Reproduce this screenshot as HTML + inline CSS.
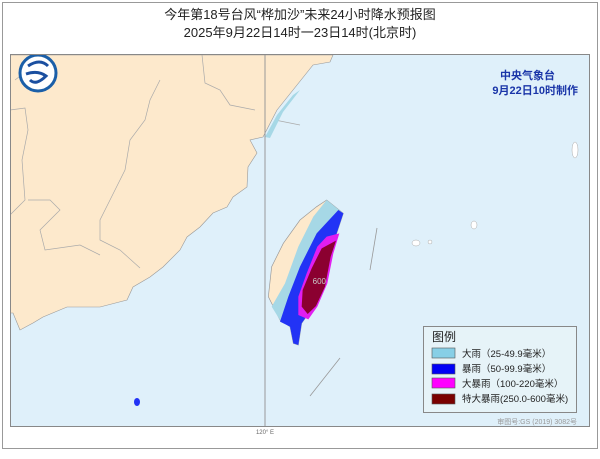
<!DOCTYPE html>
<html><head><meta charset="utf-8"><style>
html,body{margin:0;padding:0;background:#fff;}
body{width:600px;height:454px;overflow:hidden;font-family:"Liberation Sans","Noto Sans CJK SC",sans-serif;}
</style></head><body>
<svg width="600" height="454" viewBox="0 0 600 454" xmlns="http://www.w3.org/2000/svg" font-family="Liberation Sans, Noto Sans CJK SC, sans-serif">
<rect x="2.5" y="2.5" width="595" height="446" fill="#fff" stroke="#999" stroke-width="1"/>
<text x="300" y="19" font-size="13" text-anchor="middle" fill="#222">今年第18号台风“桦加沙”未来24小时降水预报图</text>
<text x="300" y="37" font-size="13" text-anchor="middle" fill="#222">2025年9月22日14时一23日14时(北京时)</text>
<rect x="10.5" y="54.5" width="579" height="372" fill="#dff0fa" stroke="#888"/>
<clipPath id="c"><rect x="11" y="55" width="578" height="371"/></clipPath>
<g clip-path="url(#c)">
<polygon fill="#fde9cc" stroke="#999" stroke-width="0.6" points="10,55 333,55 330,62 313,65 293,90 277,110 263,137 250,140 257,153 248,167 247,187 233,197 227,207 213,213 200,227 187,237 180,250 163,267 150,277 133,287 127,300 100,307 67,307 43,317 33,323 20,330 13,313 10,313"/>
<g fill="none" stroke="#aaa" stroke-width="0.7">
<path d="M202,55 L205,83 L220,90 L230,105 L255,110"/>
<path d="M160,80 L150,100 L145,120 L130,140 L125,170 L110,200 L100,220 L100,240 L120,250 L140,268"/>
<path d="M10,110 L25,108 L28,130 L22,160 L25,200 L10,215"/>
<path d="M28,200 L50,200 L60,210 L40,230 L45,250 L80,245 L100,255"/>
<path d="M30,55 L28,70 L15,80"/>
<path d="M275,120 L300,125"/>
</g>
<polygon fill="#a6d8e6" points="300,90 293,95 277,115 265,137 270,138 283,112"/>
<g transform="translate(230,190) scale(0.33333)">
<polygon fill="#fde9cc" stroke="#999" stroke-width="2" points="290,30 340,70 320,130 300,200 280,290 250,350 215,400 205,465 190,460 180,410 150,390 115,320 125,230 160,160 210,90 260,50"/>
<polygon fill="#a6d8e6" points="290,30 340,70 320,130 300,200 280,290 250,350 215,400 205,465 190,460 180,410 150,390 125,350 165,280 205,170 250,80"/>
<polygon fill="#2233f5" points="325,60 340,70 320,130 300,200 280,290 250,350 215,400 205,465 190,460 180,410 150,395 175,320 210,230 260,130"/>
<polygon fill="#e11ef0" points="328,130 310,190 292,280 262,350 235,388 205,375 205,320 230,250 262,170 290,140"/>
<polygon fill="#8b0030" points="318,152 302,200 285,290 258,348 233,372 215,350 218,300 245,235 275,175"/>
<text x="248" y="282" font-size="24" fill="#ccc">600</text>
</g>
<line x1="265" y1="55" x2="265" y2="426" stroke="#999" stroke-width="1"/>
<g stroke="#999" stroke-width="0.8"><line x1="377" y1="228" x2="370" y2="270"/><line x1="340" y1="358" x2="310" y2="396"/></g>
<g fill="#fff" stroke="#aaa" stroke-width="0.5"><ellipse cx="416" cy="243" rx="4" ry="3"/><circle cx="430" cy="242" r="2"/><ellipse cx="575" cy="150" rx="3" ry="8"/><ellipse cx="474" cy="225" rx="3" ry="4"/></g>
<ellipse cx="137" cy="402" rx="3" ry="4" fill="#2233f5"/>
<circle cx="38" cy="73" r="18" fill="#fff" stroke="#1b5fa8" stroke-width="3"/>
<path d="M28,66 Q40,58 48,66 M26,74 Q38,70 46,76 Q36,86 30,80" fill="none" stroke="#1b4fa0" stroke-width="3"/>
<text x="555" y="79" font-size="11" font-weight="bold" text-anchor="end" fill="#1a35a8">中央气象台</text>
<text x="578" y="94" font-size="11" font-weight="bold" text-anchor="end" fill="#1a35a8">9月22日10时制作</text>
</g>
<rect x="423.5" y="326.5" width="153" height="86" fill="#e6f3f8" stroke="#888"/>
<text x="432" y="341" font-size="12" fill="#222">图例</text>
<g stroke="#555" stroke-width="0.6">
<rect x="432" y="348" width="23" height="10" fill="#87cfe6"/>
<rect x="432" y="364" width="23" height="10" fill="#0000f5"/>
<rect x="432" y="378" width="23" height="10" fill="#ff00ff"/>
<rect x="432" y="394" width="23" height="10" fill="#7a0000"/>
</g>
<g font-size="9.5" fill="#222">
<text x="462" y="357">大雨（25-49.9毫米）</text>
<text x="462" y="372">暴雨（50-99.9毫米）</text>
<text x="462" y="387">大暴雨（100-220毫米）</text>
<text x="462" y="402">特大暴雨(250.0-600毫米)</text>
</g>
<text x="577" y="424" font-size="7" text-anchor="end" fill="#999">审图号:GS (2019) 3082号</text>
<text x="265" y="434" font-size="6" text-anchor="middle" fill="#666">120° E</text>
</svg>
</body></html>
